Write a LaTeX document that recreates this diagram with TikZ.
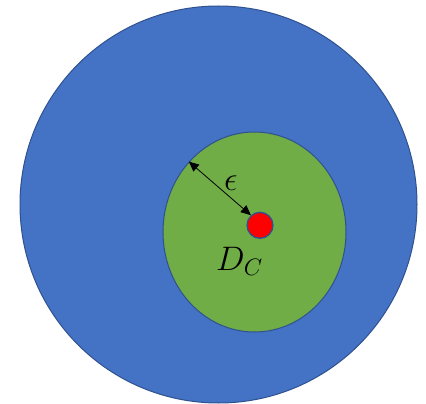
\RequirePackage{fix-cm}
\documentclass[tikz,border=0pt]{standalone}
\usetikzlibrary{shapes.geometric,arrows.meta}
\definecolor{oblue}{HTML}{4472C4}
\definecolor{ogreen}{HTML}{70AD47}
\definecolor{edge}{HTML}{2F528F}
\begin{document}
\begin{tikzpicture}[x=1pt,y=-1pt,
  region/.style={draw=edge, line width=1pt, inner sep=0pt},
  lbl/.style={inner sep=0pt, anchor=base west, font=\fontsize{34}{40}\selectfont}]
\useasboundingbox (0,0) rectangle (426,404);
\node[region, circle, fill=oblue, minimum size=397pt] (outer) at (218.5,204.5) {};
\node[region, ellipse, fill=ogreen, minimum width=183pt, minimum height=200pt] (inner) at (254.5,232) {};
\node[region, circle, fill=red, line width=1.3pt, minimum size=26pt] (dot) at (260,225.3) {};
\draw[{Triangle[length=10pt,width=9pt]}-{Triangle[length=10pt,width=9pt]}, line width=0.8pt] (inner.133) -- (dot.132);
\node[lbl] (eps) at (224,190) {$\epsilon$};
\node[lbl] (dc) at (216,270) {$D_C$};
\end{tikzpicture}
\end{document}
